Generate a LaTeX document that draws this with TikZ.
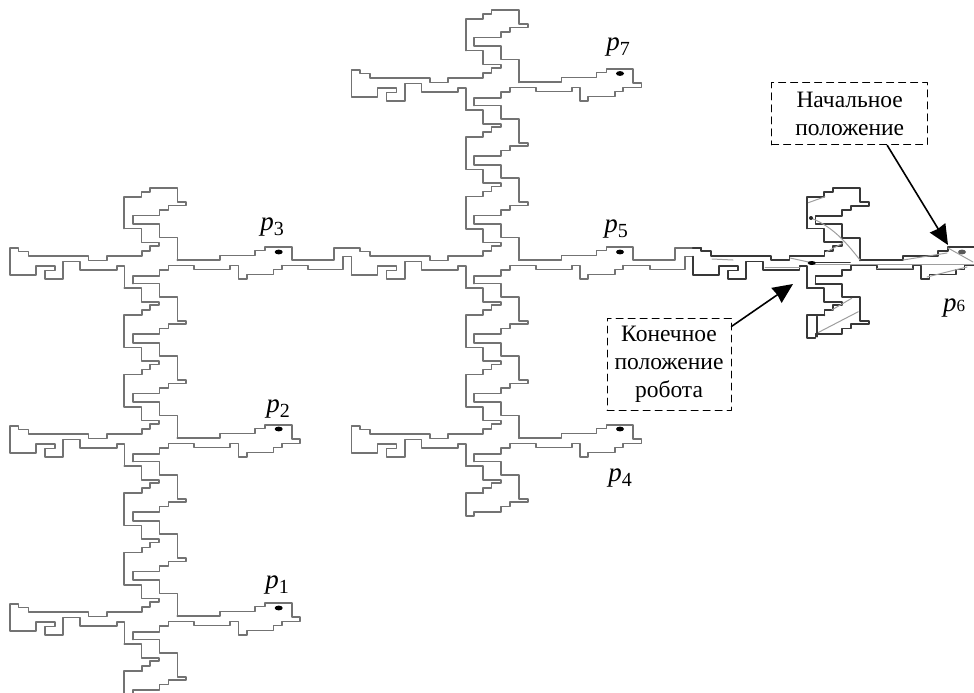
\documentclass[tikz,border=0pt]{standalone}
\usepackage{fontspec}
\setmainfont{Liberation Serif}
\usetikzlibrary{arrows.meta}

% corridor walls, one period at a time
\newcommand{\stemlow}{--++(26.7,0) --++(0,13.3) --++(18,0) --++(0,24) \stemtail}
\newcommand{\stemtail}{--++(8.7,0) --++(0,3.3) --++(-17.7,0) --++(0,4.3) --++(-9,0) --++(0,5.7) --++(-26.7,0)}
\newcommand{\stemright}{\stemlow --++(0,8.7)}
\newcommand{\stemjoin}{--++(26.7,0) --++(0,13.3) --++(18,0) --++(0,22.8)}
\newcommand{\stemtip}{--++(17.3,0) --++(0,13.9) --++(17.7,0) --++(0,3.3) --++(-9.3,0) --++(0,5) --++(-8.3,0) --++(0,5)}
\newcommand{\stemleft}{\stemtip --++(-17.4,0) --++(0,32.1)}
\newcommand{\stemcap}{--++(0,-31.5) --++(17.3,0) --++(0,-4.7) --++(8.3,0) --++(0,-4.3) --++(27.5,0) --++(0,14.3) \stemtail --++(0,8.7)}
\newcommand{\armtop}{--++(42.7,0) --++(0,-4.7) --++(35,0) --++(0,-5) --++(10,0) --++(0,-3.7) --++(26.7,0)}
\newcommand{\armend}{--++(0,14.3) --++(8.3,0) --++(0,4.3) --++(-18.3,0)}
\newcommand{\armbottom}{--++(0,4) --++(-8.3,0) --++(0,5) --++(-26.7,0) --++(0,4.3) --++(-8.3,0) --++(0,-13.3) --++(-8.3,0) --++(0,4) --++(-36,0) --++(0,-4) --++(-25.7,0) --++(0,4.7) --++(-9,0) --++(0,6) --++(-26.7,0) --++(0,7.3)}
\newcommand{\armleft}{--++(-35,0) --++(0,4.7) --++(-18.3,0) --++(0,-4.7) --++(-60,0) --++(0,-4.3) --++(-10,0) --++(0,-3.3) --++(-8.3,0)}
\newcommand{\armrest}{--++(26,0) --++(0,-9) --++(19,0) --++(0,4.7) --++(-10,0) --++(0,8.7) --++(18.3,0) --++(0,-17.7) --++(16.7,0) --++(0,8.3) --++(36.7,0) --++(0,-4) --++(7.7,0) --++(0,22.3)}
\newcommand{\linktop}{--++(0,13.3) --++(42,0) --++(0,-12.2) --++(17.9,0)}
\newcommand{\linkunder}{--++(26.6,0) --++(0,4) --++(35,0) --++(0,-13) --++(8.3,0) --++(0,18.2)}
\newcommand{\pidx}[1]{\fontsize{27}{27}\selectfont\textit{p}\raisebox{-.2em}{\fontsize{20}{20}\selectfont #1}}

\begin{document}
\begin{tikzpicture}[x=1pt, y=-1pt, line join=round, line cap=round,
	wall/.style={draw=black!55, line width=1.7pt},
	walldark/.style={draw=black!78, line width=1.9pt},
	trace/.style={draw=black!38, line width=1pt},
	dashbox/.style={draw, dashed, dash pattern=on 7pt off 5pt, line width=1pt, align=center, inner sep=0pt, font=\fontsize{23.5}{28}\selectfont},
	plabel/.style={inner sep=0pt},
	pointer/.style={line width=1.6pt, -{Stealth[length=20pt,width=18pt,inset=1pt]}}]
	\clip (0,0) rectangle (974,693);
	
	% tops of the trees
	\foreach \tx/\ty/\ts in {0/247/wall, 341.6/69/wall, 682.8/247/walldark} {
		\draw[\ts] (\tx+124.3,\ty-18.5) \stemcap \stemjoin;
		\draw[\ts] (\tx+124.3,\ty-18.5) \stemtip \armleft;
	}
	% stems from one row down to the next one
	\foreach \tx/\ty in {0/247, 0/425, 341.6/69, 341.6/247} {
		\draw[wall] (\tx+132.7,\ty+36.6) \stemright \stemright \stemjoin;
		\draw[wall] (\tx+124.3,\ty+41.1) \stemleft \stemleft \stemtip \armleft;
	}
	% stems that stop below the last row
	\foreach \tx/\ty/\ts in {0/603/wall, 341.6/425/wall, 682.8/247/walldark} {
		\draw[\ts] (\tx+132.7,\ty+36.6) \stemlow --++(0,4) --++(-8.4,0) --++(0,-23) --++(17.3,0);
		\draw[\ts] (\tx+124.3,\ty+41.1) \stemtip;
	}
	% arms with a closed right end
	\foreach \tx/\ty/\ts in {0/425/wall, 0/603/wall, 341.6/69/wall, 341.6/425/wall, 682.8/247/walldark} {
		\draw[\ts] (\tx+177.3,\ty+13.3) \armtop \armend \armbottom;
	}
	% closed left ends
	\foreach \tx/\ty in {0/247, 0/425, 0/603, 341.6/69, 341.6/425} {
		\draw[wall] (\tx+10,\ty+1.1) --++(0,26.7) \armrest;
	}
	% passages between the trees
	\foreach \tx in {0,341.6} {
		\draw[wall] (\tx+177.3,260.3) \armtop \linktop;
		\draw[wall] (\tx+281.7,265.6) \armbottom;
		\draw[wall] (\tx+281.7,265.6) \linkunder;
	}
	\draw[wall] (351.6,274.8) \armrest;
	\draw[walldark] (692.8,256.7) --++(0,18.1) \armrest;
	\draw[walldark] (692.8,248.1) --++(8.3,0);
	
	% what the robot drew on top
	\draw[trace] (808.3,202.7) -- (825,196.7);
	\draw[trace] (811.7,218.3) .. controls (835,228) and (848,245) .. (860,260);
	\draw[trace] (826.7,251.7) -- (843,243);
	\draw[trace] (816.7,333.3) -- (858.3,311.7);
	\draw[trace] (831.7,310) -- (851.7,298.3);
	\draw[trace] (712,259) -- (733,260);
	\draw[trace] (765,267) -- (800,267);
	\draw[trace] (790,258) -- (813,263);
	\draw[trace] (903,260) -- (947,253);
	\draw[trace] (948,248) -- (973,262);
	\draw[trace] (927,277) -- (967,267);
	\draw[trace] (877,268) -- (912,268);
	\draw[trace] (813,264.5) -- (974,264.5);
	\draw[walldark] (816.7,316.7) -- (816.7,336.7);
	\draw[walldark] (813,262.5) -- (850,262.5);
	\fill[black!85] (811,218) circle (2);
	\fill (811.7,263) ellipse (4 and 2);
	\fill[black!65] (962,252) ellipse (4 and 2.4);
	
	% targets
	\foreach \tx/\ty in {278.7/252, 278.7/429, 278.7/608, 620/73.5, 620/252, 620/429} {
		\fill (\tx,\ty) ellipse (4 and 2.4);
	}
	\node[plabel] (p1) at (277,585) {\pidx{1}};
	\node[plabel] (p2) at (278,409) {\pidx{2}};
	\node[plabel] (p3) at (272,227) {\pidx{3}};
	\node[plabel] (p4) at (620,478) {\pidx{4}};
	\node[plabel] (p5) at (616,229) {\pidx{5}};
	\node[plabel] (p6) at (954,308) {\fontsize{27}{27}\selectfont\textit{p}\fontsize{17}{17}\selectfont 6};
	\node[plabel] (p7) at (618,47) {\pidx{7}};
	
	\node[dashbox, minimum width=156pt, minimum height=62pt] (startbox) at (849.7,113.9) {Начальное\\положение};
	\node[dashbox, minimum width=124pt, minimum height=92pt] (goalbox) at (669,364) {Конечное\\положение\\робота};
	\coordinate (starttip) at (948,245);
	\coordinate (goaltip) at (793,284);
	\draw[pointer] (startbox.-40) -- (starttip);
	\draw[pointer] (goalbox.31) -- (goaltip);
\end{tikzpicture}
\end{document}
